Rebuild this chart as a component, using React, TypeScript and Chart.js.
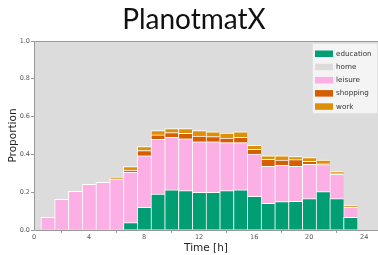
import React, { useEffect, useRef } from "react";
import { Chart, registerables } from "chart.js";

Chart.register(...registerables);

const hours = [1, 2, 3, 4, 5, 6, 7, 8, 9, 10, 11, 12, 13, 14, 15, 16, 17, 18, 19, 20, 21, 22, 23];
const education = [0, 0, 0, 0, 0, 0, 0.039, 0.12, 0.19, 0.212, 0.208, 0.199, 0.199, 0.208, 0.212, 0.178, 0.141, 0.15, 0.152, 0.166, 0.203, 0.166, 0.067];
const home = [0, 0, 0, 0, 0, 0, 0, 0, 0, 0, 0, 0, 0, 0, 0, 0, 0, 0, 0, 0, 0, 0, 0];
const leisure = [0.067, 0.162, 0.205, 0.242, 0.252, 0.27, 0.268, 0.273, 0.29, 0.278, 0.275, 0.268, 0.268, 0.254, 0.25, 0.224, 0.196, 0.192, 0.185, 0.181, 0.143, 0.129, 0.053];
const shopping = [0, 0, 0, 0, 0, 0, 0.01, 0.027, 0.023, 0.025, 0.028, 0.03, 0.027, 0.025, 0.028, 0.025, 0.037, 0.028, 0.035, 0.016, 0.007, 0.003, 0.002];
const work = [0, 0, 0, 0, 0, 0.005, 0.018, 0.021, 0.023, 0.021, 0.025, 0.029, 0.026, 0.026, 0.029, 0.021, 0.019, 0.022, 0.016, 0.02, 0.017, 0.011, 0.007];

const seriesNames = ["education", "home", "leisure", "shopping", "work"];
const seriesValues = [education, home, leisure, shopping, work];
const seriesColors = ["#029e73", "#dcdcdc", "#fbafe4", "#d55e00", "#de8f05"];
const xTicks = [0, 4, 8, 12, 16, 20, 24];
const yTicks = [0, 0.2, 0.4, 0.6, 0.8, 1.0];
const titleText = "PlanotmatX";

const frameColor = "#999999";
const tickFont = { family: "DejaVu Sans", size: 6.5 };

const decorPlugin = {
  id: "decor",
  beforeDatasetsDraw(chart: any) {
    const { ctx, chartArea } = chart;
    ctx.save();
    ctx.fillStyle = "#dcdcdc";
    ctx.fillRect(chartArea.left, chartArea.top, chartArea.right - chartArea.left, chartArea.bottom - chartArea.top);
    ctx.restore();
  },
  afterDatasetsDraw(chart: any) {
    const { ctx, chartArea } = chart;
    ctx.save();
    ctx.strokeStyle = frameColor;
    ctx.lineWidth = 1;
    ctx.beginPath();
    ctx.moveTo(chartArea.right + 2, chartArea.top + 0.5);
    ctx.lineTo(chartArea.left + 0.5, chartArea.top + 0.5);
    ctx.lineTo(chartArea.left + 0.5, chartArea.bottom + 0.5);
    ctx.lineTo(chartArea.right + 2, chartArea.bottom + 0.5);
    ctx.stroke();
    ctx.restore();
  },
  afterDraw(chart: any) {
    const { ctx, chartArea } = chart;
    ctx.save();
    // title
    ctx.fillStyle = "#111111";
    ctx.font = "28px Lato";
    ctx.textAlign = "center";
    ctx.textBaseline = "alphabetic";
    ctx.fillText(titleText, 194, 29);
    // legend
    const bx = chartArea.right - 66;
    const by = chartArea.top + 2;
    const bw = 65;
    const bh = 70;
    ctx.fillStyle = "rgba(248,248,248,0.85)";
    ctx.strokeStyle = "#e0e0e0";
    ctx.lineWidth = 1;
    ctx.beginPath();
    ctx.rect(bx + 0.5, by + 0.5, bw, bh);
    ctx.fill();
    ctx.stroke();
    ctx.font = "7.2px 'DejaVu Sans'";
    ctx.textAlign = "left";
    ctx.textBaseline = "middle";
    chart.data.datasets.forEach((ds: any, i: number) => {
      const cy = by + 10.5 + i * 13.2;
      ctx.fillStyle = ds.backgroundColor;
      ctx.fillRect(bx + 3, cy - 3, 18, 6.5);
      ctx.fillStyle = "#333333";
      ctx.fillText(ds.label, bx + 24, cy + 0.5);
    });
    ctx.restore();
  },
};

export default function App() {
  const ref = useRef<HTMLCanvasElement | null>(null);
  useEffect(() => {
    document.body.style.margin = "0";
    const canvas = ref.current;
    if (!canvas) return;
    const chart = new Chart(canvas, {
      type: "bar",
      data: {
        datasets: seriesNames.map((name, i) => ({
          label: name,
          data: hours.map((h, j) => ({ x: h, y: seriesValues[i][j] })),
          backgroundColor: seriesColors[i],
          borderColor: "#ffffff",
          borderWidth: { top: 1, left: 1, right: 0, bottom: 0 },
          borderSkipped: false,
          barPercentage: 1,
          categoryPercentage: 1,
        })),
      },
      options: {
        animation: false,
        responsive: false,
        maintainAspectRatio: false,
        devicePixelRatio: 1,
        layout: { padding: { top: 41, left: 0, right: 0, bottom: 0 } },
        plugins: {
          legend: { display: false },
          title: { display: false },
          tooltip: { enabled: false },
        },
        scales: {
          x: {
            type: "linear",
            stacked: true,
            min: 0,
            max: 25,
            offset: false,
            afterBuildTicks(scale: any) {
              scale.ticks = xTicks.map((v) => ({ value: v }));
            },
            afterFit(scale: any) {
              scale.height = 25;
            },
            grid: { drawOnChartArea: false, drawTicks: true, tickLength: 3, color: frameColor },
            border: { display: false },
            ticks: {
              font: tickFont,
              color: "#555555",
              padding: 0,
              maxRotation: 0,
              callback: (v: any) => String(v),
            },
            title: {
              display: true,
              text: "Time [h]",
              font: { family: "DejaVu Sans", size: 10.5 },
              color: "#222222",
              padding: { top: 0, bottom: 0 },
            },
          },
          y: {
            stacked: true,
            min: 0,
            max: 1,
            afterBuildTicks(scale: any) {
              scale.ticks = yTicks.map((v) => ({ value: v }));
            },
            afterFit(scale: any) {
              scale.width = 34;
            },
            grid: { drawOnChartArea: false, drawTicks: true, tickLength: 3, color: frameColor },
            border: { display: false },
            ticks: {
              font: tickFont,
              color: "#555555",
              padding: 1,
              callback: (v: any) => Number(v).toFixed(1),
            },
            title: {
              display: true,
              text: "Proportion",
              font: { family: "DejaVu Sans", size: 10.5 },
              color: "#222222",
              padding: { top: 7, bottom: 0 },
            },
          },
        },
      },
      plugins: [decorPlugin],
    } as any);
    return () => chart.destroy();
  }, []);
  return (
    <div style={{ position: "absolute", left: 0, top: 0, width: 378, height: 255, background: "#ffffff" }}>
      <canvas ref={ref} width={378} height={255} style={{ width: 378, height: 255 }} />
    </div>
  );
}
